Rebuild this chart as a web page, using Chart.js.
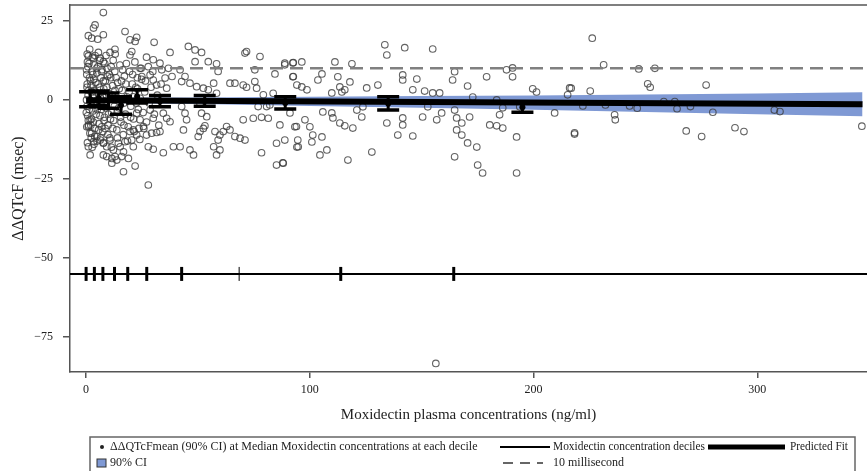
<!DOCTYPE html>
<html>
<head>
<meta charset="utf-8">
<script src="https://cdn.jsdelivr.net/npm/chart.js"></script>
<style>
  html, body { margin: 0; padding: 0; background: #fff; }
  #wrap { width: 867px; height: 471px; }
</style>
</head>
<body>
<div id="wrap"><canvas id="qtChart" width="867" height="471"></canvas></div>
<script>
// ---------------------------------------------------------
// Data
// ---------------------------------------------------------
const xTicks = [0, 100, 200, 300];
const yTicks = [-75, -50, -25, 0, 25];

// concentration decile boundaries (tick marks on the -55 line)
const decileCuts = [0, 3.7, 7.5, 12.7, 18.6, 27.1, 42.7, 68.4, 113.8, 164.3];
const decileLineY = -55;

// mean ddQTcF with 90% CI at the median concentration of each decile
const decileMedian = [1.8, 5.6, 10, 15.6, 22.8, 33, 53, 89, 135, 195];
const ciUpper = [2.6, 2.8, 2.2, 1.0, 3.2, 1.4, 1.4, 1.0, 1.0, -0.7];
const ciLower = [-2.2, -1.8, -2.6, -4.5, -1.0, -2.2, -2.0, -2.9, -3.2, -3.9];
const meanDQ = [0.2, 0.5, -0.2, -1.7, 1.1, -0.4, -0.3, -1.0, -1.1, -2.3];

// predicted fit and its 90% CI band
const fitConc = [0, 347];
const fitDQ = [-0.1, -1.4];
const bandConc = [0, 50, 100, 150, 200, 250, 300, 347];
const bandUpper = [0.7, 0.8, 1.0, 1.2, 1.4, 1.7, 2.0, 2.4];
const bandLower = [-0.9, -1.3, -1.9, -2.5, -3.1, -3.8, -4.5, -5.2];

const refLevel = 10;          // 10 millisecond line
const xRange = [-7.2, 349];
const yRange = [-86, 30];

// individual observations [concentration, ddQTcF]
const observed = [
  // dense low-concentration cluster
  [0.3,8],[0.5,5],[0.8,10.5],[1.2,3],[0.4,-2],[0.7,-5],[1.1,-8],[0.6,12],[1.5,7],[1.9,-1],
  [2.2,4.5],[2.6,9],[2.4,-6],[2.9,1.5],[3.1,-3.5],[3.4,6.5],[3.7,11],[3.9,-9],[4.2,2.5],[4.5,-4.5],
  [4.8,8.5],[5.1,-1.5],[5.4,5],[5.8,-7.5],[6.1,12.5],[6.4,0.5],[6.8,-3],[7.1,9.5],[7.5,-10],[7.9,3.5],
  [8.2,-5.5],[8.6,6],[9,-1],[9.4,10],[9.8,-8],[10.2,2],[10.6,-12],[11,7],[11.4,-4],[11.8,4.5],
  [12.3,-6.5],[12.8,9],[13.2,0],[13.7,-9.5],[14.1,5.5],[14.6,-2.5],[15.1,11],[15.6,-7],[16.1,3],[16.6,-11],
  [17.1,7.5],[17.6,-4.5],[18.2,1],[18.8,-8.5],[19.4,9],[20,-2],[20.6,5],[21.2,-6],[21.8,12],[22.4,-1],
  [23,3.5],[23.6,-9],[24.2,0.5],[24.8,6.5],[25.5,-4],[26.2,2.5],[27,-7],[27.8,10.5],[0.2,0],[0.9,1.5],
  [1.4,-3],[1.7,-10.5],[2,6],[2.3,-12],[2.8,13.5],[3.2,-7],[3.6,3],[4,14],[4.4,-1],[4.9,-13],
  [5.3,10.5],[5.7,2],[6.2,-5],[6.6,7],[7,-8.5],[7.4,1],[7.8,-13.5],[8.3,11.5],[8.8,-2.5],[9.3,4],
  [9.7,-11],[10.4,8],[10.9,-6],[11.6,1.5],[12.1,12.5],[12.6,-2],[13.4,7],[14,-12],[14.8,3.5],[15.4,-5.5],
  [16.3,9.5],[17,-1],[17.8,5],[18.5,-13],[19.2,2.5],[19.9,-5.5],[20.8,8],[21.5,-10],[22.2,4],[23.3,-3],
  [24.6,10],[0.4,4],[1,-6.5],[1.3,11.5],[2.1,-8],[2.5,2.5],[3,8],[3.3,-1.5],[3.8,-11.5],[4.3,5.5],
  [4.7,10],[5,-3],[5.6,-9.5],[6,4],[6.5,-12],[6.9,9],[7.3,-2],[7.7,6],[8,-6.5],[8.5,-9],
  [9.1,1.5],[9.6,7.5],[10,-4.5],[11.2,10.5],[11.9,-9],[12.9,3],[13.9,-4],[15.8,6],[16.9,-8],[18,11.5],
  [19.6,-10],[21,1],[22.9,7],[24,-12.5],[25.8,-9],[26.5,6],[28.2,-1],[29,4],[30.5,-4.5],[31.8,1.5],
  [29.8,9],[32.5,-8],[33.5,5],[0.1,-4],[0.3,-8.5],[0.6,-13.5],[0.2,9.5],[0.5,14.5],[1.6,16],[2.7,-15],
  [3.5,-14],[5.5,15],[8.9,14],[11.3,-15],[13,14.5],
  // 0 - 95 ng/ml, outer points
  [7.7,27.6],[4,23.7],[3.3,22.7],[1,20.3],[2.5,19.5],[5.2,19.2],[7.7,20.6],[17.4,21.6],[19.6,19],[22.6,19.8],
  [21.9,18.5],[30.4,18.2],[12.9,16],[10.7,15],[1,13.9],[3.3,13.2],[6.3,13.2],[7.7,12.1],[20.4,15.3],[19.6,14.2],
  [27,13.5],[30,12.7],[37.5,15],[45.7,16.9],[48.7,15.8],[51.6,15],[48.7,12.1],[54.6,12.1],[58.3,11.4],[59,9],
  [71,14.8],[71.7,15.3],[77.7,13.7],[75.4,9.5],[84.4,8.2],[88.8,11.6],[92.6,11.8],[92.6,7.4],[64.3,5.3],[66.5,5.3],
  [70.2,4.7],[71.7,4],[75.4,5.8],[76.2,3.7],[79.2,1.6],[83.6,2.1],[42,9.5],[44.2,7.4],[42.7,5.8],[46.4,5.3],
  [49.4,4.2],[52.4,3.7],[54.6,3.2],[57,5.3],[58.3,2.1],[38.4,7.4],[36.8,10],[33,11.6],[33.8,9.5],[35.3,6.9],
  [36,3.7],[28.6,7.9],[30,6.3],[31.5,4.7],[24.1,10],[24.9,7.4],
  [1.8,-17.4],[1,-14.8],[3.3,-13.2],[7.7,-17.4],[9.2,-17.9],[11.5,-18.5],[12.9,-17.9],[11.5,-20],[13.7,-19],[15.9,-17.9],
  [16.7,-16.4],[16.7,-22.7],[21.9,-20.9],[18.9,-18.5],[27.8,-26.9],[21.1,-14.8],[20.4,-12.7],[27,-11.1],[29.3,-10.5],[31.5,-10.3],
  [33,-10],[27.8,-14.8],[30,-15.6],[34.5,-16.7],[39,-14.8],[42,-14.8],[46.4,-15.8],[48,-17.4],[43.5,-9.5],[50.1,-11.6],
  [50.9,-10],[52.4,-9],[53.1,-8.2],[57,-14.8],[58.3,-17.4],[59.8,-15.8],[59,-12.7],[57.6,-10],[59.8,-11.1],[62.8,-8.4],
  [61.3,-10],[66.5,-11.6],[68.8,-12.1],[71,-12.7],[64.3,-9.5],[78.4,-16.7],[70.2,-6.3],[74.7,-5.8],[78.4,-5.5],[81.4,-5.8],
  [76.9,-2.1],[80.7,-2.1],[82.1,-1.6],[85.1,-13.7],[88.8,-12.7],[86.6,-7.9],[85.1,-20.6],[88.1,-20],[94,-8.4],[94.8,-14.8],
  [42.7,-2.1],[44.2,-4.2],[44.9,-6.3],[51.6,-4.2],[53.9,-5.3],[50.9,-1.1],[34.5,-4.2],[36,-5.8],[37.5,-6.9],[28.6,-3.2],
  [30,-5.8],[22.6,-4.2],[24.1,-6.3],[25.6,-8.4],[21.1,-9.5],[22.6,-11.1],[2.5,-10.5],[4.8,-11.6],[6.3,-12.7],[1,-8.4],
  [1.8,-6.3],[7.7,-13.7],[9.2,-14.8],[10.7,-12.7],[12.2,-15.8],[14.4,-13.7],[15.2,-14.8],[17.4,-13.2],
  // 85 - 220 ng/ml
  [88.8,11.1],[92.4,11.7],[96.4,12],[92.4,7.3],[94.2,4.7],[96.4,4.1],[98.7,3.2],[87.9,-19.9],[91.1,-4.1],[97.8,-6.3],
  [100,-8.5],[101.3,-11.1],[93.3,-8.5],[94.6,-12.7],[94.2,-14.9],[100.9,-13.3],[105.4,-11.7],[104.5,-17.4],[107.6,-15.8],[105.8,-3.8],
  [109.8,-4.1],[110.3,-5.7],[105.4,8.2],[103.6,6.3],[111.2,12],[112.5,7.3],[113.4,4.1],[114.3,2.5],[109.8,2.2],[115.6,3.2],
  [117.9,5.7],[118.8,11.4],[117,-19],[113.4,-7.3],[115.6,-8.2],[119.2,-8.9],[121,-3.2],[123.2,-5.4],[123.7,-2.2],[125.4,3.8],
  [127.7,-16.5],[130.4,4.7],[133.5,17.4],[134.4,14.2],[142.4,16.5],[154.9,16.1],[141.5,7.9],[141.5,6.3],[147.8,6.6],[146,3.2],
  [151.3,2.8],[154.9,2.2],[158,2.2],[134.4,-7.3],[141.5,-5.7],[141.5,-7.9],[139.3,-11.1],[146,-11.4],[150.4,-5.4],[152.7,-2.2],
  [156.7,-6.3],[158.9,-4.1],[163.8,6.3],[164.7,8.9],[170.5,4.4],[172.8,0.9],[164.7,-3.2],[165.6,-5.7],[167.9,-7.3],[171.4,-5.4],
  [165.6,-9.5],[167.9,-11.1],[170.5,-13.6],[174.6,-14.9],[164.7,-18],[175,-20.6],[177.2,-23.1],[179,7.3],[187.9,9.5],[190.6,10.1],
  [190.6,7.3],[183.5,0],[186.2,-2.5],[184.8,-4.7],[180.4,-7.9],[183.5,-8.2],[186.2,-8.9],[192.4,-11.7],[192.4,-23.1],[199.6,3.5],
  [201.3,2.5],[216.1,3.8],[215.2,1.6],[209.4,-4.1],[218.3,-10.4],[193.8,-2.2],
  // high concentrations
  [226.2,19.5],[231.3,11.1],[247,9.8],[254.2,10],[216.8,3.7],[225.3,2.8],[251,5.1],[252.1,4],[277.1,4.7],[222,-1.9],
  [232.1,-1.6],[242.9,-1.9],[246.3,-2.6],[236.2,-4.7],[236.5,-6.3],[258.2,-0.5],[263.1,-0.5],[264.1,-2.8],[270.1,-2.1],[280.1,-3.9],
  [307.6,-3.2],[310.1,-3.7],[218.3,-10.8],[268.2,-9.8],[275.1,-11.6],[290,-8.8],[294,-10],[346.7,-8.3],
  // outlier
  [156.3,-83.3]
];

// ---------------------------------------------------------
// Plugins: plot frame, error bars, legend
// ---------------------------------------------------------
const framePlugin = {
  id: "frame",
  afterDraw(chart) {
    const { ctx, chartArea: a } = chart;
    ctx.save();
    ctx.strokeStyle = "#555";
    ctx.lineWidth = 1.5;
    ctx.beginPath();
    ctx.moveTo(a.left, a.top);
    ctx.lineTo(a.right, a.top);
    ctx.stroke();
    ctx.restore();
  }
};

const errorBarPlugin = {
  id: "errorBars",
  afterDatasetsDraw(chart) {
    const { ctx, scales: { x, y } } = chart;
    ctx.save();
    ctx.strokeStyle = "#000";
    ctx.fillStyle = "#000";
    decileMedian.forEach((c, i) => {
      const px = x.getPixelForValue(c);
      const top = y.getPixelForValue(ciUpper[i]);
      const bot = y.getPixelForValue(ciLower[i]);
      ctx.lineWidth = 3;
      ctx.beginPath();
      ctx.moveTo(px, top);
      ctx.lineTo(px, bot);
      ctx.stroke();
      ctx.lineWidth = 3.5;
      ctx.beginPath();
      ctx.moveTo(px - 11, top);
      ctx.lineTo(px + 11, top);
      ctx.moveTo(px - 11, bot);
      ctx.lineTo(px + 11, bot);
      ctx.stroke();
      ctx.beginPath();
      ctx.arc(px, y.getPixelForValue(meanDQ[i]), 3, 0, Math.PI * 2);
      ctx.fill();
    });
    ctx.restore();
  }
};

const legendPlugin = {
  id: "boxLegend",
  afterDraw(chart) {
    const ctx = chart.ctx;
    const r1 = 447, r2 = 463;
    ctx.save();
    ctx.strokeStyle = "#666";
    ctx.lineWidth = 1.5;
    ctx.strokeRect(90, 437, 765, 50);

    ctx.font = '12px "Liberation Serif"';
    ctx.fillStyle = "#222";
    ctx.textBaseline = "middle";

    // row 1
    ctx.beginPath();
    ctx.arc(102, r1, 2, 0, Math.PI * 2);
    ctx.fill();
    ctx.fillText("ΔΔQTcFmean (90% CI) at Median Moxidectin concentrations at each decile", 110, r1, 382);
    ctx.strokeStyle = "#000";
    ctx.lineWidth = 2;
    ctx.beginPath();
    ctx.moveTo(500, r1);
    ctx.lineTo(550, r1);
    ctx.stroke();
    ctx.fillText("Moxidectin concentration deciles", 553, r1, 152);
    ctx.lineWidth = 5;
    ctx.beginPath();
    ctx.moveTo(708, r1);
    ctx.lineTo(785, r1);
    ctx.stroke();
    ctx.fillText("Predicted Fit", 790, r1, 58);

    // row 2
    ctx.fillStyle = "#7f99d4";
    ctx.fillRect(97, r2 - 4, 9, 8);
    ctx.strokeStyle = "#333";
    ctx.lineWidth = 1;
    ctx.strokeRect(97, r2 - 4, 9, 8);
    ctx.fillStyle = "#222";
    ctx.fillText("90% CI", 110, r2);
    ctx.strokeStyle = "#666";
    ctx.lineWidth = 2;
    ctx.setLineDash([10, 7]);
    ctx.beginPath();
    ctx.moveTo(503, r2);
    ctx.lineTo(543, r2);
    ctx.stroke();
    ctx.setLineDash([]);
    ctx.fillText("10 millisecond", 553, r2);
    ctx.restore();
  }
};

// ---------------------------------------------------------
// Chart
// ---------------------------------------------------------
const serif = "Liberation Serif";
const pts = (xs, ys) => xs.map((v, i) => ({ x: v, y: ys[i] }));
const flat = (xs, v) => xs.map(c => ({ x: c, y: v }));

new Chart(document.getElementById("qtChart"), {
  type: "scatter",
  data: {
    datasets: [
      {
        // decile line
        data: flat(xRange, decileLineY),
        showLine: true, borderColor: "#000", borderWidth: 2, pointRadius: 0, order: 1
      },
      {
        // decile boundary ticks
        data: flat(decileCuts, decileLineY),
        pointStyle: "line", rotation: 90, pointRadius: 7,
        pointBorderWidth: decileCuts.map(c => (c === 68.4 ? 1 : 3)),
        borderColor: "#000", backgroundColor: "#000", order: 1
      },
      {
        // predicted fit
        data: pts(fitConc, fitDQ),
        showLine: true, borderColor: "#000", borderWidth: 6, pointRadius: 0, order: 2
      },
      {
        // 10 millisecond reference
        data: flat(xRange, refLevel),
        showLine: true, borderColor: "#808080", borderWidth: 2.5, borderDash: [13, 7],
        pointRadius: 0, order: 3
      },
      {
        // observations
        data: observed.map(p => ({ x: p[0], y: p[1] })),
        pointRadius: 3.3, pointBorderWidth: 1.1,
        borderColor: "rgba(60,60,60,0.8)", backgroundColor: "rgba(0,0,0,0)", order: 4
      },
      {
        // 90% CI upper
        data: pts(bandConc, bandUpper),
        showLine: true, borderWidth: 0, pointRadius: 0,
        fill: "+1", backgroundColor: "#7f99d4", order: 5
      },
      {
        // 90% CI lower
        data: pts(bandConc, bandLower),
        showLine: true, borderWidth: 0, pointRadius: 0, order: 5
      }
    ]
  },
  options: {
    responsive: false,
    animation: false,
    events: [],
    layout: { autoPadding: false, padding: { top: 5, bottom: 47, left: 0, right: 0 } },
    plugins: { legend: { display: false }, tooltip: { enabled: false } },
    scales: {
      x: {
        type: "linear",
        min: xRange[0], max: xRange[1],
        afterBuildTicks: s => { s.ticks = xTicks.map(v => ({ value: v })); },
        afterFit: s => { s.height = 52; s.paddingLeft = 0; s.paddingRight = 0; },
        grid: { drawOnChartArea: false, drawTicks: true, tickLength: 6, color: "#555", lineWidth: 1.5 },
        border: { color: "#555", width: 1.5 },
        ticks: { font: { family: serif, size: 12 }, color: "#222", padding: 5 },
        title: {
          display: true, text: "Moxidectin plasma concentrations (ng/ml)",
          font: { family: serif, size: 15 }, color: "#222", padding: { top: 0, bottom: 0 }
        }
      },
      y: {
        type: "linear",
        min: yRange[0], max: yRange[1],
        afterBuildTicks: s => { s.ticks = yTicks.map(v => ({ value: v })); },
        afterFit: s => { s.width = 70; s.paddingTop = 0; s.paddingBottom = 0; },
        grid: { drawOnChartArea: false, drawTicks: true, tickLength: 7, color: "#555", lineWidth: 1.5 },
        border: { color: "#555", width: 1.5 },
        ticks: {
          font: { family: serif, size: 12 }, color: "#222", padding: 10,
          callback: v => String(v).replace("-", "\u2212")
        },
        title: {
          display: true, text: "ΔΔQTcF (msec)",
          font: { family: serif, size: 16 }, color: "#222", padding: { top: 9.5, bottom: 0 }
        }
      }
    }
  },
  plugins: [framePlugin, errorBarPlugin, legendPlugin]
});
</script>
</body>
</html>
